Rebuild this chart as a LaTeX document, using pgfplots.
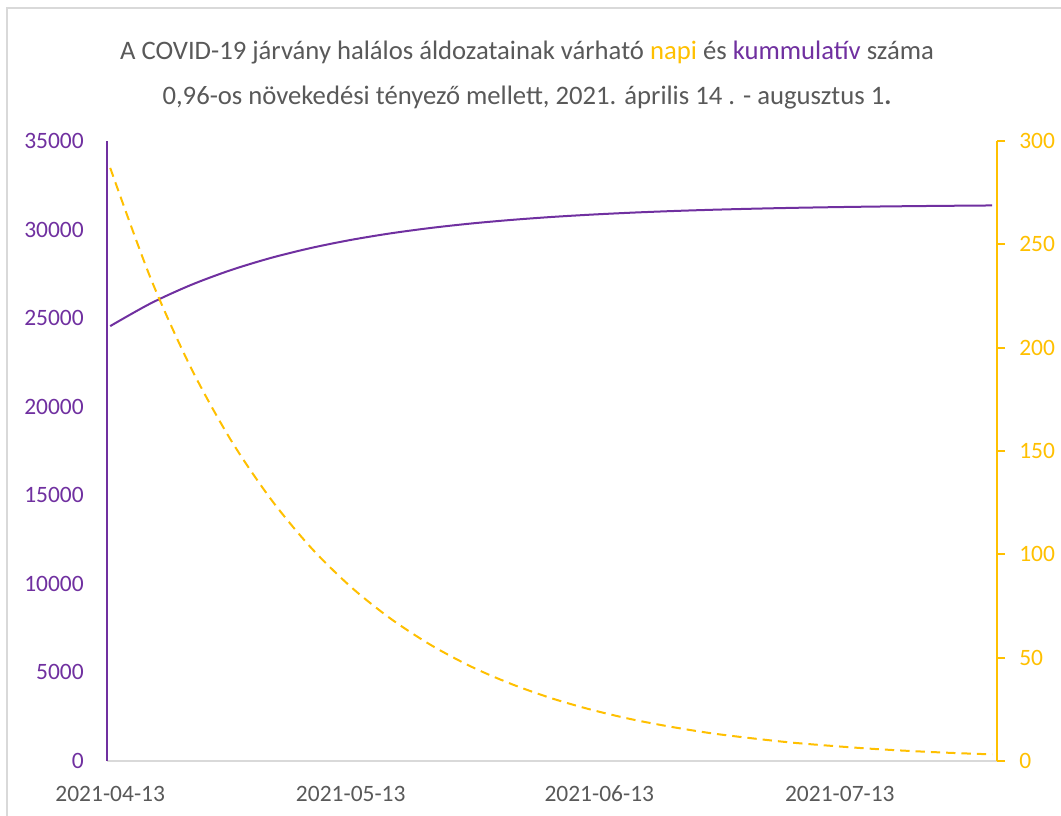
\documentclass[border=0pt]{standalone}
\usepackage{fontspec}
\setmainfont{Carlito}
\usepackage{pgfplots}
\pgfplotsset{compat=1.18}
\definecolor{cumpurple}{HTML}{7030A0}
\definecolor{dailygold}{HTML}{FFC000}
\definecolor{txtgray}{HTML}{595959}
\definecolor{linegray}{HTML}{D9D9D9}

\pgfplotstableread{
day cum
0   24550
5   25822
10  26859
15  27704
20  28394
25  28956
30  29414
35  29788
40  30092
45  30341
50  30543
55  30709
60  30843
65  30953
70  31043
75  31116
80  31175
85  31224
90  31263
95  31296
100 31322
105 31343
110 31361
}\cumtable

\pgfplotstableread{
day daily
0   287.0
5   234.0
10  190.8
15  155.6
20  126.9
25  103.4
30  84.3
35  68.8
40  56.1
45  45.7
50  37.3
55  30.4
60  24.8
65  20.2
70  16.5
75  13.4
80  11.0
85  8.9
90  7.3
95  5.9
100 4.8
105 3.9
110 3.2
}\dailytable

\begin{document}
\begin{tikzpicture}
% 1 px of the reference = 0.75pt
\useasboundingbox (0,0) rectangle (795.75pt,612pt);
\fill[white] (0,0) rectangle (795.75pt,612pt);
\draw[linegray, line width=1.5pt] (5.25pt,0) -- (5.25pt,606pt) -- (795.75pt,606pt);

\node[text=txtgray, font=\fontsize{20}{24}\selectfont] at (395.25pt,572.25pt)
  {A COVID-19 járvány halálos áldozatainak várható \textcolor{dailygold}{napi} és \textcolor{cumpurple}{kummulatív} száma};
\node[text=txtgray, font=\fontsize{20}{24}\selectfont] at (395.25pt,538.5pt)
  {0,96-os növekedési tényező mellett, 2021. április 14 . - augusztus 1\textbf{.}};

% left axis: cumulative
\begin{axis}[
  at={(80.25pt,41.25pt)}, anchor=south west,
  scale only axis, width=667.5pt, height=465pt,
  xmin=-0.4, xmax=110.6, ymin=0, ymax=35000,
  axis x line*=bottom, axis y line*=left,
  x axis line style={linegray, line width=1.2pt},
  y axis line style={cumpurple, line width=1.5pt},
  xtick={0,30,61,91},
  xticklabels={2021-04-13,2021-05-13,2021-06-13,2021-07-13},
  ytick={0,5000,...,35000},
  major tick length=0pt,
  /pgf/number format/1000 sep={},
  /pgf/number format/assume math mode=true,
  scaled y ticks=false,
  tick label style={font=\fontsize{17.6}{21}\selectfont, inner sep=0pt},
  xticklabel style={text=txtgray, yshift=-18.5pt},
  yticklabel style={text=cumpurple, xshift=-17.25pt},
]
\addplot[cumpurple, line width=1.5pt, smooth] table[x=day, y=cum] {\cumtable};
\end{axis}

% right axis: daily
\begin{axis}[
  at={(80.25pt,41.25pt)}, anchor=south west,
  scale only axis, width=667.5pt, height=465pt,
  xmin=-0.4, xmax=110.6, ymin=0, ymax=300,
  axis x line=none, axis y line*=right,
  y axis line style={dailygold, line width=1.5pt},
  ytick={0,50,...,300},
  tick align=outside, major tick length=6pt,
  every tick/.style={dailygold, line width=1.5pt},
  /pgf/number format/assume math mode=true,
  tick label style={font=\fontsize{17.6}{21}\selectfont, inner sep=0pt},
  yticklabel style={text=dailygold, xshift=10.5pt},
]
\addplot[dailygold, line width=1.5pt, dash pattern=on 7pt off 4.5pt, smooth] table[x=day, y=daily] {\dailytable};
\end{axis}
\end{tikzpicture}
\end{document}
